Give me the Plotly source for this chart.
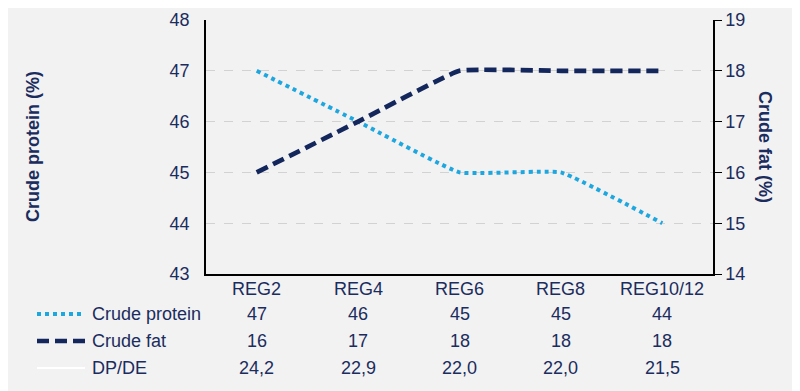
import plotly.graph_objects as go

categories = ["REG2", "REG4", "REG6", "REG8", "REG10/12"]
crude_protein = [47, 46, 45, 45, 44]
crude_fat = [16, 17, 18, 18, 18]
dp_de = ["24,2", "22,9", "22,0", "22,0", "21,5"]

navy = "#14275c"
light = "#1ea7df"
text_col = "#1b2c5e"
bg = "#f2f2f2"
font = "Liberation Sans, Arial, sans-serif"

# page body has an 8px offset; figure coordinates below are page coords minus 8
OFF = 8
W, H = 792, 383
ml, mr, mt, mb = 206 - OFF, 87, 20 - OFF, 117
pw = W - ml - mr
ph = H - mt - mb

def px(xpage):
    return (xpage - OFF - ml) / pw

def py(ypage):
    return (H - mb - (ypage - OFF)) / ph

dot_line = dict(color=light, width=4, dash="4px,4px")
dash_line = dict(color=navy, width=4.7, dash="12px,6px")

fig = go.Figure()
fig.add_trace(go.Scatter(x=categories, y=crude_protein, mode="lines", name="Crude protein",
                         line=dict(shape="spline", smoothing=0.3, **dot_line), yaxis="y"))
fig.add_trace(go.Scatter(x=categories, y=crude_fat, mode="lines", name="Crude fat",
                         line=dict(shape="spline", smoothing=0.3, **dash_line), yaxis="y2"))

rows = [
    ("Crude protein", [str(v) for v in crude_protein], 314, dot_line),
    ("Crude fat", [str(v) for v in crude_fat], 341, dash_line),
    ("DP/DE", dp_de, 368, dict(color="white", width=2)),
]

fs = 18
annotations = []
shapes = []
# category row
for c in categories:
    annotations.append(dict(x=c, xref="x", y=py(289), yref="paper", text=c, showarrow=False,
                            font=dict(size=fs, color=text_col, family=font),
                            xanchor="center", yanchor="middle"))
for label, vals, ypage, ln in rows:
    for c, v in zip(categories, vals):
        annotations.append(dict(x=c, xref="x", y=py(ypage), yref="paper", text=v, showarrow=False,
                                font=dict(size=fs, color=text_col, family=font),
                                xanchor="center", yanchor="middle"))
    annotations.append(dict(x=px(90), xref="paper", y=py(ypage), yref="paper", text=label, showarrow=False,
                            font=dict(size=fs, color=text_col, family=font),
                            xanchor="left", yanchor="middle"))
    shapes.append(dict(type="line", xref="paper", yref="paper",
                       x0=px(37), x1=px(85), y0=py(ypage), y1=py(ypage), line=ln))

annotations.append(dict(x=px(33), xref="paper", y=0.5, yref="paper",
                        text="<b>Crude protein (%)</b>", textangle=-90, showarrow=False,
                        font=dict(size=fs, color=text_col, family=font), xanchor="center", yanchor="middle"))
annotations.append(dict(x=px(765), xref="paper", y=0.5, yref="paper",
                        text="<b>Crude fat (%)</b>", textangle=90, showarrow=False,
                        font=dict(size=fs, color=text_col, family=font), xanchor="center", yanchor="middle"))

fig.update_layout(
    width=W, height=H,
    margin=dict(l=ml, r=mr, t=mt, b=mb),
    paper_bgcolor=bg, plot_bgcolor=bg,
    showlegend=False,
    font=dict(family=font, size=fs, color=text_col),
    xaxis=dict(type="category", range=[-0.5, 4.5], showgrid=False, showline=True, linecolor="black",
               linewidth=1.5, ticks="", showticklabels=False, automargin=False, zeroline=False),
    yaxis=dict(range=[43, 48], dtick=1, showgrid=True, gridcolor="#d2d2d2", griddash="dash", gridwidth=1,
               showline=True, linecolor="black", linewidth=1.5, ticks="outside", ticklen=11, tickcolor=bg,
               automargin=False, tickfont=dict(size=fs, color=text_col), zeroline=False),
    yaxis2=dict(range=[14, 19], dtick=1, overlaying="y", side="right", showgrid=False,
                showline=True, linecolor="black", linewidth=1.5, ticks="outside", ticklen=7, tickcolor="black",
                automargin=False, tickfont=dict(size=fs, color=text_col), zeroline=False),
    annotations=annotations,
    shapes=shapes,
)

fig.write_html("out.html")
